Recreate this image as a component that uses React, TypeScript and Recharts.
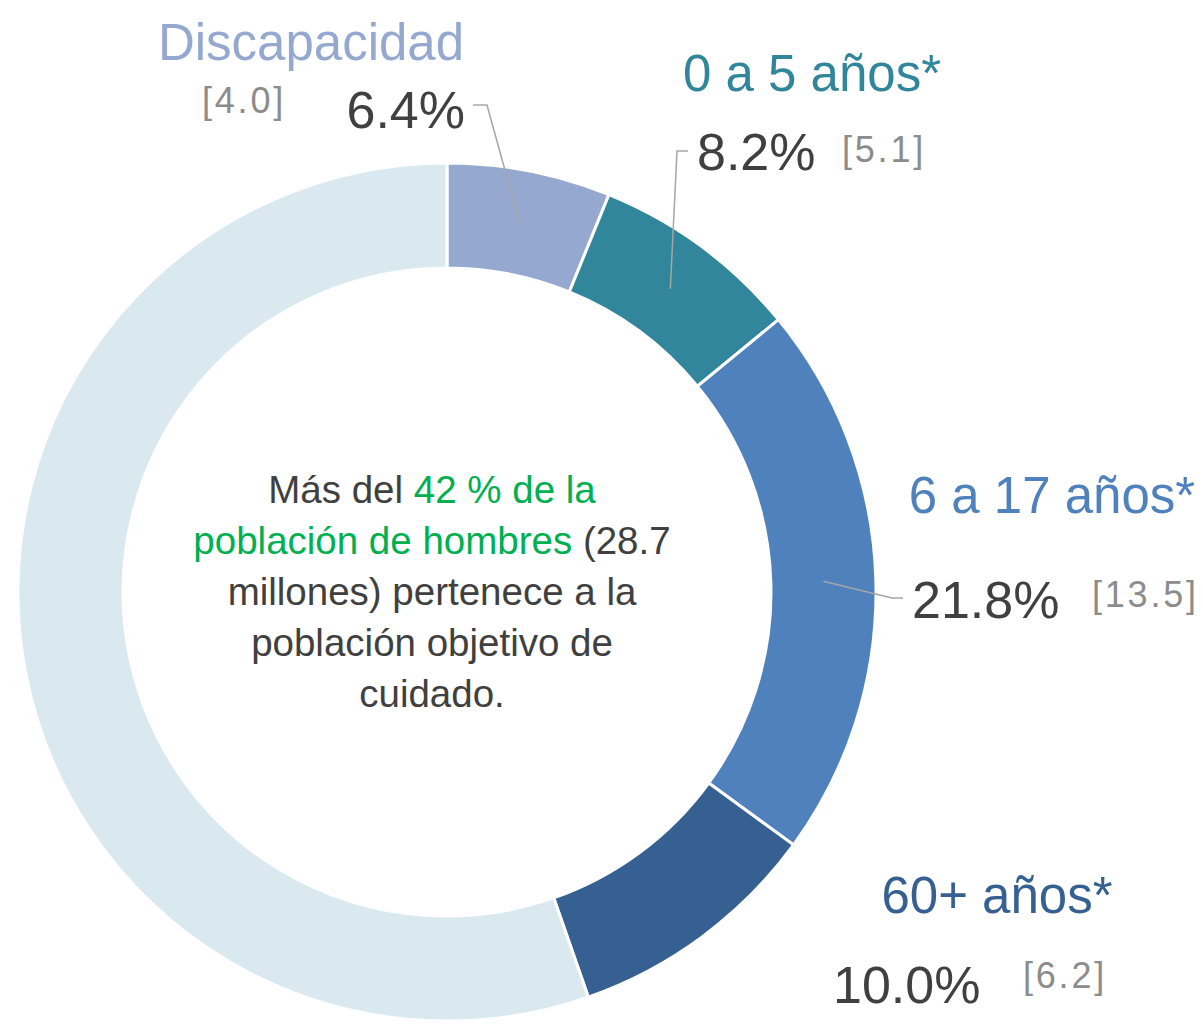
import React from 'react';
import { PieChart, Pie, Cell } from 'recharts';

// shares of the male population (%), last slice is the rest of the ring
const categories = ['Discapacidad', '0 a 5 años*', '6 a 17 años*', '60+ años*', 'Resto'];
const shares = [6.4, 8.2, 21.8, 10.0, 57.5];
const millions = ['[4.0]', '[5.1]', '[13.5]', '[6.2]', ''];
const colors = ['#95A9D0', '#31869B', '#4F81BD', '#376092', '#DAE8F0'];

const centerLines = [
  [{ t: 'Más del ', c: '#404040' }, { t: '42 % de la', c: '#00B050' }],
  [{ t: 'población de hombres', c: '#00B050' }, { t: ' (28.7', c: '#404040' }],
  [{ t: 'millones) pertenece a la', c: '#404040' }],
  [{ t: 'población objetivo de', c: '#404040' }],
  [{ t: 'cuidado.', c: '#404040' }],
];

const data = categories.map((name, i) => ({ name, value: shares[i] }));

const FONT = '"Liberation Sans", Arial, sans-serif';

// label placement around the ring
const layout: any[] = [
  { title: [311, 60, 'middle'], pct: [465, 128, 'end'], br: [202, 113], elbow: [[487, 105], [473, 105]] },
  { title: [812, 91, 'middle'], pct: [697, 170, 'start'], br: [842, 162], elbow: [[677, 151], [688, 151]] },
  { title: [1052, 513, 'middle'], pct: [912, 618, 'start'], br: [1092, 607], elbow: [[892, 598], [903, 598]] },
  { title: [997, 913, 'middle'], pct: [833, 1003, 'start'], br: [1023, 988], elbow: null },
];

const renderLabel = (props: any) => {
  const { cx, cy, midAngle, innerRadius, outerRadius, index } = props;
  if (index === categories.length - 1) {
    return (
      <text key="center" textAnchor="middle" fontFamily={FONT} fontSize={38.5}>
        {centerLines.map((line, li) => (
          <tspan key={li} x={432} y={503 + li * 51}>
            {line.map((p, pi) => (
              <tspan key={pi} fill={p.c}>{p.t}</tspan>
            ))}
          </tspan>
        ))}
      </text>
    );
  }
  const l = layout[index];
  const RAD = Math.PI / 180;
  const r = ((innerRadius ?? 324) + (outerRadius ?? 429)) / 2;
  const sx = cx + r * Math.cos(-midAngle * RAD);
  const sy = cy + r * Math.sin(-midAngle * RAD);
  return (
    <g key={`lbl-${index}`} fontFamily={FONT}>
      {l.elbow && (
        <polyline
          points={`${sx},${sy} ${l.elbow[0][0]},${l.elbow[0][1]} ${l.elbow[1][0]},${l.elbow[1][1]}`}
          fill="none"
          stroke="#A6A6A6"
          strokeWidth={1.5}
        />
      )}
      <text x={l.title[0]} y={l.title[1]} textAnchor={l.title[2]} fontSize={51} fill={colors[index]}>
        {categories[index]}
      </text>
      <text x={l.pct[0]} y={l.pct[1]} textAnchor={l.pct[2]} fontSize={52} fill="#404040">
        {`${shares[index].toFixed(1)}%`}
      </text>
      <text x={l.br[0]} y={l.br[1]} fontSize={36} letterSpacing={2.8} fill="#8C8C8C">
        {millions[index]}
      </text>
    </g>
  );
};

export default function App() {
  return (
    <div style={{ position: 'absolute', left: 0, top: 0, width: 1203, height: 1035, background: '#fff' }}>
      <PieChart width={1203} height={1035} margin={{ top: 0, right: 0, bottom: 0, left: 0 }}>
        <Pie
          data={data}
          dataKey="value"
          nameKey="name"
          cx={447}
          cy={592}
          innerRadius={324}
          outerRadius={429}
          startAngle={90}
          endAngle={-270}
          stroke="#ffffff"
          strokeWidth={3}
          label={renderLabel}
          labelLine={false}
          isAnimationActive={false}
        >
          {data.map((d, i) => (
            <Cell key={d.name} fill={colors[i]} />
          ))}
        </Pie>
      </PieChart>
    </div>
  );
}
